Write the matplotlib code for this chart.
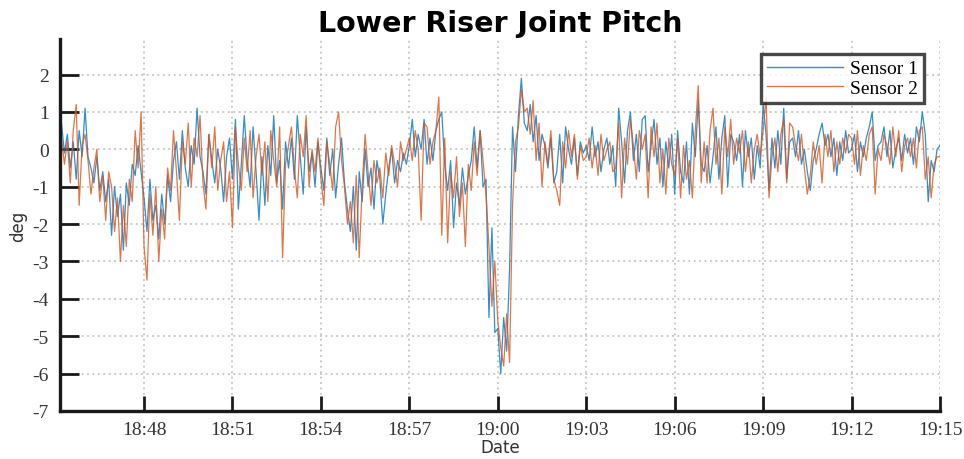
import numpy as np
import pandas as pd
import matplotlib
matplotlib.use("Agg")
import matplotlib.pyplot as plt
import matplotlib.dates as mdates

plt.rcParams["axes.unicode_minus"] = False

# ---- data (6-second samples starting 18:45:12) ----
start_time = "2020-01-01 18:45:12"
step_seconds = 6

sensor1 = [
    # 18:45
    0.7, -0.1, 0.4, -0.5, 0.2, -0.8, 0.5, -0.2,
    # 18:46
    1.1, -0.2, -0.5, -0.9, -0.2, -1.1, -0.6, -1.4, -0.8, -2.3,
    # 18:47
    -1.0, -1.8, -1.2, -2.7, -0.9, -1.5, -0.4, -0.7, 0.1, -0.6,
    # 18:48
    -1.3, -2.2, -0.8, -1.9, -1.5, -2.4, -1.2, -2.0, -0.7, -1.4,
    # 18:49
    -0.3, 0.2, -0.8, 0.5, -0.5, -1.0, 0.1, -0.4, 1.1, -0.2,
    # 18:50
    -0.6, -1.2, 0.4, -0.3, -0.9, 0.0, -0.5, -1.4, -0.2, 0.3,
    # 18:51
    -0.8, 0.8, -1.6, -0.4, 0.9, -0.3, -1.0, 0.6, -0.6, -1.9,
    # 18:52
    -0.2, -1.5, 0.1, -0.7, 0.9, -0.9, -0.3, -1.6, 0.2, -0.5,
    # 18:53
    0.3, -0.8, 0.9, -0.2, -1.2, 0.6, -0.6, -0.1, -1.0, 0.2,
    # 18:54
    -0.5, -1.1, 0.3, -0.7, 0.0, -1.3, -0.4, 0.3, -0.9, -1.6,
    # 18:55
    -2.2, -1.0, -2.7, -0.6, -1.4, 0.0, -1.0, -0.5, -1.6, -0.3,
    # 18:56
    -0.8, -2.0, -1.2, -0.5, 0.0, -0.9, -0.3, -0.6, -0.1, -0.4,
    # 18:57
    0.1, 0.8, -0.2, 0.4, 0.0, 0.8, -0.4, 0.3, -0.3, 0.5,
    # 18:58
    0.8, 1.0, -0.4, -1.1, -0.3, -2.1, -0.9, -1.5, -0.5, -1.2,
    # 18:59
    -0.7, -0.3, 0.6, -0.5, 0.5, -1.0, -0.8, -4.5, -2.1, -4.9,
    # 19:00
    -4.8, -6.0, -4.5, -5.4, -3.2, 0.6, -0.6, 0.9, 1.9, 0.7,
    # 19:01
    0.5, 1.2, 0.2, 0.9, -0.3, 0.4, 0.1, -0.5, 0.3, -0.9,
    # 19:02
    -0.6, 0.4, -0.9, 0.6, 0.0, -0.4, 0.3, -0.7, 0.2, -0.1,
    # 19:03
    0.1, -0.3, 0.6, -0.2, 0.2, -0.6, 0.0, 0.3, -0.4, 0.1,
    # 19:04
    -1.0, 1.1, 0.2, -0.9, 0.5, 1.0, -0.3, 0.4, -0.6, 0.8,
    # 19:05
    0.9, -0.6, 0.1, 0.8, -0.4, 0.3, -1.0, 0.2, -0.5, 0.4,
    # 19:06
    -1.2, 0.5, -0.6, -0.9, 0.2, -1.2, 0.7, -0.2, 1.3, -0.4,
    # 19:07
    -0.6, 0.1, -0.9, -0.2, 0.6, -0.8, 0.3, 0.9, -1.0, 0.4,
    # 19:08
    0.2, -0.3, 0.4, -1.0, 0.5, -0.2, 0.3, -0.8, 0.1, -0.5,
    # 19:09
    1.2, 0.4, -1.1, 0.3, -0.5, 0.5, -0.4, 1.1, -0.8, 0.2,
    # 19:10
    0.3, -0.2, 0.5, -0.4, 0.0, -0.6, -1.1, -0.3, 0.0, 0.4,
    # 19:11
    0.7, 0.1, 0.4, -0.2, 0.3, -0.7, 0.2, -0.3, 0.5, -0.1,
    # 19:12
    0.0, 0.4, -0.6, 0.2, -0.2, 0.3, 0.6, 1.0, -0.3, 0.1,
    # 19:13
    0.2, 0.6, -0.2, 0.5, -0.5, 0.0, 0.3, -0.3, 0.4, -0.1,
    # 19:14
    0.3, -0.4, 0.6, 0.2, 1.0, 0.4, -1.4, -0.3, -0.6, 0.0,
    # 19:15
    0.1,
]

sensor2 = [
    # 18:45
    0.3, -0.4, 0.2, -0.9, 0.5, 1.2, -1.5, 0.1,
    # 18:46
    0.4, -0.3, -1.2, -0.5, 0.0, -1.4, -0.7, -1.9, -0.6, -1.0,
    # 18:47
    -2.2, -1.3, -3.0, -1.5, -2.6, -0.8, -1.4, 0.5, -0.5, 1.0,
    # 18:48
    -2.6, -3.5, -1.2, -2.3, -1.0, -3.0, -1.6, -2.4, -0.5, -1.1,
    # 18:49
    0.5, -0.6, -1.9, 0.2, -0.4, 0.7, -1.0, 0.3, -0.2, 0.9,
    # 18:50
    -0.9, -1.6, 0.4, -0.5, 0.6, -1.1, -0.3, 0.2, -1.4, -0.6,
    # 18:51
    -2.1, 0.6, -0.4, -1.1, 0.3, -0.6, 0.5, -1.3, -0.2, 0.4,
    # 18:52
    -0.7, 0.2, -1.4, 0.5, -0.3, -1.0, 0.6, -2.9, -0.4, 0.1,
    # 18:53
    0.6, -0.5, -1.3, 0.4, -0.2, 0.9, -1.0, 0.0, -0.6, 0.3,
    # 18:54
    -0.8, -1.5, 0.2, -0.4, -1.1, 0.6, 1.0, -0.3, -1.0, -2.0,
    # 18:55
    -1.4, -2.5, -0.7, -2.9, -1.0, 0.4, -0.6, -1.5, -0.3, -0.9,
    # 18:56
    -0.5, -1.3, -0.1, -0.7, 0.1, -0.4, -1.0, 0.2, -0.3, 0.0,
    # 18:57
    0.3, -0.3, 0.5, 0.0, -1.9, 0.7, 0.6, -0.4, 0.2, 0.5,
    # 18:58
    1.4, -2.3, 0.3, -2.5, -0.6, -1.3, -0.2, -1.8, -0.9, -2.6,
    # 18:59
    -0.4, -1.1, 0.2, -0.7, 0.5, -0.3, -1.2, -2.6, -4.2, -3.0,
    # 19:00
    -4.6, -5.3, -5.8, -4.4, -5.7, -1.5, 0.2, 0.6, 1.6, 1.0,
    # 19:01
    1.1, 0.4, 1.3, -0.3, 0.7, -1.0, 0.2, -0.4, 0.5, -0.8,
    # 19:02
    -1.1, -1.5, 0.2, -0.5, 0.5, -0.2, 0.4, -0.8, 0.1, -0.3,
    # 19:03
    -0.2, 0.3, -0.5, 0.1, -0.7, 0.4, -0.3, 0.0, 0.2, -0.6,
    # 19:04
    -0.5, 0.7, -1.3, 0.3, -0.4, 0.8, 0.1, -0.8, 0.5, 0.0,
    # 19:05
    0.4, -1.3, 0.6, -0.2, 0.7, -0.9, 0.0, -1.2, 0.3, -0.4,
    # 19:06
    -0.7, 0.3, -1.3, 0.1, -0.8, -0.3, -1.3, 0.5, 1.7, -0.9,
    # 19:07
    0.2, -0.9, 0.5, 1.1, -0.4, 0.3, -1.2, 0.6, -0.2, 0.8,
    # 19:08
    -0.4, 0.3, -0.1, 0.5, -0.6, 0.2, -0.9, 0.0, 0.4, -0.2,
    # 19:09
    0.5, 1.4, -1.3, -0.2, 0.3, -0.6, 0.4, 0.8, -0.9, 0.7,
    # 19:10
    0.6, 0.1, -0.3, 0.4, -0.5, -1.2, -0.7, 0.2, -0.4, 0.1,
    # 19:11
    -0.9, 0.4, -0.2, 0.5, -0.6, 0.2, -0.4, 0.3, -0.1, 0.4,
    # 19:12
    0.3, -0.4, 0.5, -0.7, 0.1, -0.3, 0.4, 0.6, -1.2, 0.0,
    # 19:13
    -0.3, 0.4, 0.1, -0.4, 0.6, -0.2, 0.5, -0.6, 0.1, 0.3,
    # 19:14
    -0.2, 0.3, -0.5, 0.5, 0.6, -0.8, -0.2, -1.3, -0.4, -0.2,
    # 19:15
    -0.2,
]

series_labels = ["Sensor 1", "Sensor 2"]
title_text = "Lower Riser Joint Pitch"
x_label = "Date"
y_label = "deg"
y_ticks = [-7, -6, -5, -4, -3, -2, -1, 0, 1, 2]

times = pd.date_range(start_time, periods=len(sensor1), freq=f"{step_seconds}s")

# ---- figure ----
fig = plt.figure(figsize=(9.64, 4.60), dpi=100)
ax = fig.add_axes([60 / 964, 1 - 412 / 460, 880 / 964, (412 - 40) / 460])

blue = "#0072BD"
orange = "#D95319"
ax.plot(times, sensor1, color=blue, lw=0.9, alpha=0.8, label=series_labels[0])
ax.plot(times, sensor2, color=orange, lw=0.9, alpha=0.8, label=series_labels[1])

ax.set_xlim(pd.Timestamp("2020-01-01 18:45:09"), pd.Timestamp("2020-01-01 19:15:00"))
ax.set_ylim(-7, 2.95)
ax.set_yticks(y_ticks)
ax.xaxis.set_major_locator(mdates.MinuteLocator(byminute=range(0, 60, 3)))
ax.xaxis.set_major_formatter(mdates.DateFormatter("%H:%M"))

ax.grid(True, linestyle=(0, (1, 2)), color="#c4c4c4", linewidth=1.3)
ax.set_axisbelow(True)

for s in ["top", "right"]:
    ax.spines[s].set_visible(False)
for s in ["left", "bottom"]:
    ax.spines[s].set_linewidth(2.4)
    ax.spines[s].set_color("#1a1a1a")

serif = ["Liberation Serif", "DejaVu Serif"]
ax.tick_params(axis="y", direction="in", length=14, width=2.0, color="#1a1a1a", pad=8)
ax.tick_params(axis="x", direction="in", length=11, width=2.0, color="#1a1a1a", pad=7)
for lab in ax.get_xticklabels() + ax.get_yticklabels():
    lab.set_fontfamily(serif)
    lab.set_fontsize(14)
    lab.set_color("#333333")

ax.set_title(title_text, fontsize=20.5, fontweight="bold", family="DejaVu Sans", pad=6)
ax.set_xlabel(x_label, fontsize=12, family="DejaVu Sans", labelpad=0, color="#333333")
ax.set_ylabel(y_label, fontsize=12, family="DejaVu Sans", labelpad=4, color="#333333")

leg = ax.legend(loc="upper right", bbox_to_anchor=(0.982, 0.96), prop={"family": serif, "size": 14},
                frameon=True, fancybox=False, handlelength=3.9, handletextpad=0.4,
                borderpad=0.3, labelspacing=0.1, borderaxespad=0.0)
leg.get_frame().set_edgecolor("#1a1a1a")
leg.get_frame().set_linewidth(2.4)
for line in leg.get_lines():
    line.set_linewidth(1.0)

fig.savefig("out.png", dpi=100)
